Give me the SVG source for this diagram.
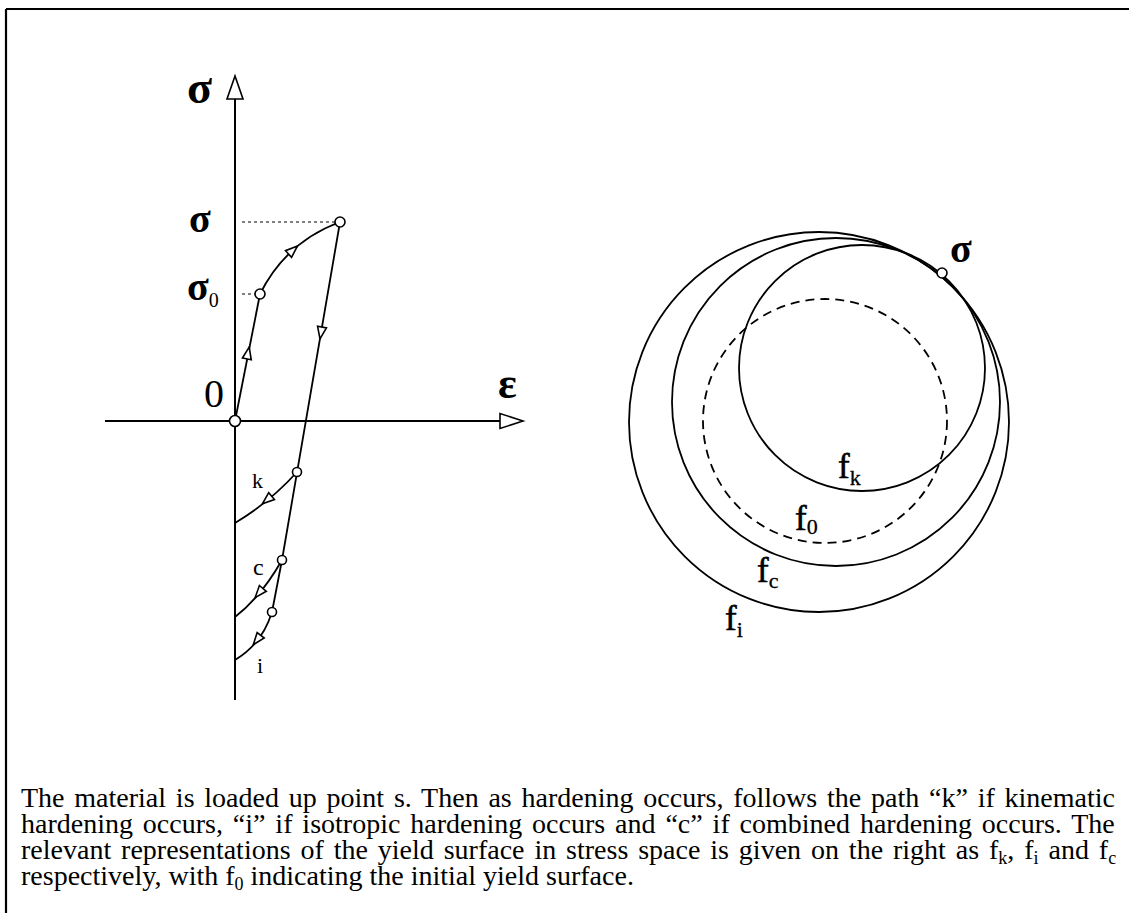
<svg xmlns="http://www.w3.org/2000/svg" xmlns:xlink="http://www.w3.org/1999/xlink" width="1129" height="913" viewBox="0 0 1129 913">
<style>
.ln{fill:none;stroke:#000;stroke-width:1.8}
.ax{fill:none;stroke:#000;stroke-width:2}
.dot{fill:none;stroke:#000;stroke-width:1.2;stroke-dasharray:3 3}
.dash{fill:none;stroke:#000;stroke-width:1.8;stroke-dasharray:9 6}
.pt{fill:#fff;stroke:#000;stroke-width:1.6}
.hd{fill:#fff;stroke:#000;stroke-width:1.6;stroke-linejoin:miter}
.g{font-family:"Liberation Serif","Times New Roman",serif;font-weight:bold;fill:#000}
.s{font-family:"Liberation Serif","Times New Roman",serif;fill:#000}
.cap{font-family:"Liberation Serif","Times New Roman",serif;font-size:28px;fill:#000}
</style>
<defs>
<path id="tri" d="M6,0 L-6,-4.5 L-6,4.5 Z" class="hd"/>
</defs>
<rect width="1129" height="913" fill="#fff"/>
<g id="frame">
<path d="M6,9 H1129 M6,9 V913" fill="none" stroke="#000" stroke-width="2.2"/>
</g>
<g id="axes">
<path class="ax" d="M235,99 V700 M105,421 H500"/>
<path class="hd" d="M235,76 L227,99 L243,99 Z"/>
<path class="hd" d="M523,421 L500,413.5 L500,428.5 Z"/>
</g>
<g id="connectors">
<path class="dot" d="M242,222 H335 M242,294 H255"/>
<path class="ln" d="M235,421 L260,294"/>
<path class="ln" d="M260,294 Q286,242 340,222"/>
<path class="ln" d="M340,222 L282,560 L272,612"/>
<path class="ln" d="M297,472 Q270,502 235,523"/>
<path class="ln" d="M282,560 Q261,597 235,617"/>
<path class="ln" d="M272,612 Q262,644 235,660"/>
<use xlink:href="#tri" transform="translate(248,353) rotate(-79)"/>
<use xlink:href="#tri" transform="translate(293,250) rotate(-42)"/>
<use xlink:href="#tri" transform="translate(321,333) rotate(99.7)"/>
<use xlink:href="#tri" transform="translate(267,500) rotate(140)"/>
<use xlink:href="#tri" transform="translate(259,593) rotate(130)"/>
<use xlink:href="#tri" transform="translate(257,640) rotate(128)"/>
</g>
<g id="points">
<circle class="pt" cx="235" cy="421" r="5.5"/>
<circle class="pt" cx="260" cy="294" r="5"/>
<circle class="pt" cx="340" cy="222" r="5"/>
<circle class="pt" cx="297" cy="472" r="4.5"/>
<circle class="pt" cx="282" cy="560" r="4.5"/>
<circle class="pt" cx="272" cy="612" r="4.5"/>
</g>
<g id="left-labels">
<text class="g" x="187" y="103" font-size="46">σ</text>
<text class="g" x="189" y="232" font-size="40">σ</text>
<text class="g" x="187" y="300" font-size="40">σ<tspan class="s" font-size="20" font-weight="normal" dy="7">0</tspan></text>
<text class="s" x="204" y="407" font-size="40">0</text>
<text class="g" x="498" y="398" font-size="44">ε</text>
<text class="s" x="252" y="488" font-size="22">k</text>
<text class="s" x="253" y="575" font-size="24">c</text>
<text class="s" x="257" y="673" font-size="22">i</text>
</g>
<g id="surfaces">
<g id="f-i"><circle class="ln" cx="819" cy="422" r="190"/></g>
<g id="f-c"><circle class="ln" cx="836" cy="402" r="164"/></g>
<g id="f-k"><circle class="ln" cx="862" cy="368" r="123"/></g>
<g id="f-0"><circle class="dash" cx="825" cy="421" r="122"/></g>
<g id="sigma-point"><circle class="pt" cx="942" cy="273" r="5"/>
<text class="g" x="950" y="262" font-size="40">σ</text></g>
<text class="s" x="838" y="478" font-size="35" stroke="#000" stroke-width="0.6">f<tspan font-size="22" stroke-width="0.3" dy="7">k</tspan></text>
<text class="s" x="795" y="530" font-size="35" stroke="#000" stroke-width="0.6">f<tspan font-size="22" stroke-width="0.3" dy="4">0</tspan></text>
<text class="s" x="757" y="582" font-size="35" stroke="#000" stroke-width="0.6">f<tspan font-size="22" stroke-width="0.3" dy="6">c</tspan></text>
<text class="s" x="725" y="630" font-size="35" stroke="#000" stroke-width="0.6">f<tspan font-size="22" stroke-width="0.3" dy="7">i</tspan></text>
</g>
<g id="caption">
<text class="cap" x="21" y="807" word-spacing="2.8">The material is loaded up point s. Then as hardening occurs, follows the path “k” if kinematic</text>
<text class="cap" x="21" y="833" word-spacing="2.9">hardening occurs, “i” if isotropic hardening occurs and “c” if combined hardening occurs. The</text>
<text class="cap" x="21" y="859" word-spacing="2.9">relevant representations of the yield surface in stress space is given on the right as f<tspan font-size="18" dy="5">k</tspan><tspan dy="-5">, f</tspan><tspan font-size="18" dy="5">i</tspan><tspan dy="-5"> and f</tspan><tspan font-size="18" dy="5">c</tspan></text>
<text class="cap" x="21" y="885">respectively, with f<tspan font-size="18" dy="5">0</tspan><tspan dy="-5"> indicating the initial yield surface.</tspan></text>
</g>
</svg>
